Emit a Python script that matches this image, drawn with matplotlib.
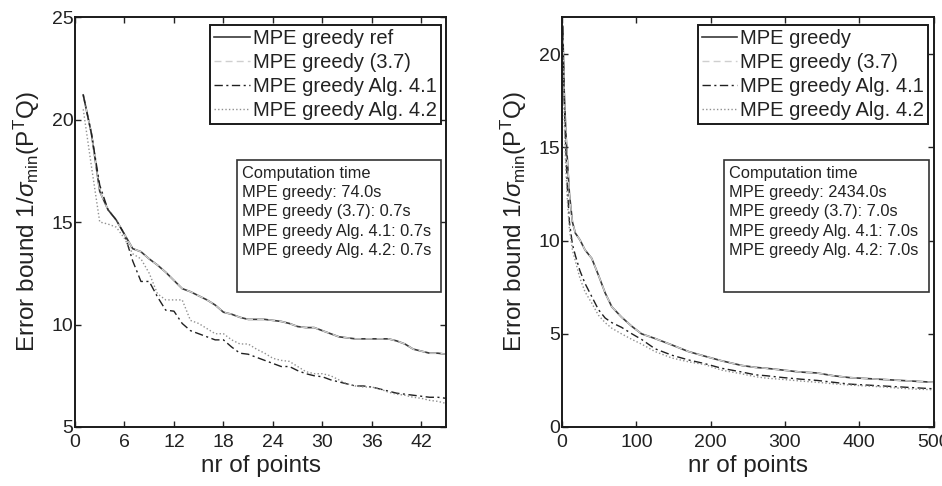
import matplotlib
matplotlib.use("Agg")
import matplotlib.pyplot as plt
from matplotlib.patches import Rectangle

plt.rcParams['font.family'] = ['Liberation Sans', 'DejaVu Sans']
plt.rcParams['mathtext.fontset'] = 'custom'
plt.rcParams['mathtext.rm'] = 'Liberation Sans'
plt.rcParams['mathtext.it'] = 'Liberation Sans:italic'
plt.rcParams['mathtext.bf'] = 'Liberation Sans:bold'

# left panel: 1..45 points
left_x = list(range(1, 46))
left_ref = [21.2, 19.3, 16.5, 15.6, 15.1, 14.4, 13.7, 13.55, 13.2, 12.9,
            12.55, 12.15, 11.75, 11.6, 11.4, 11.2, 10.95, 10.6, 10.5, 10.35,
            10.25, 10.25, 10.25, 10.2, 10.15, 10.05, 9.9, 9.85, 9.85, 9.7,
            9.55, 9.4, 9.35, 9.3, 9.3, 9.3, 9.3, 9.3, 9.2, 9.05,
            8.8, 8.7, 8.6, 8.6, 8.55]
left_37 = [21.2, 19.3, 16.5, 15.6, 15.1, 14.4, 13.7, 13.55, 13.2, 12.9,
           12.55, 12.15, 11.75, 11.6, 11.4, 11.2, 10.95, 10.6, 10.5, 10.35,
           10.25, 10.25, 10.25, 10.2, 10.15, 10.05, 9.9, 9.85, 9.85, 9.7,
           9.55, 9.4, 9.35, 9.3, 9.3, 9.3, 9.3, 9.3, 9.2, 9.05,
           8.8, 8.7, 8.6, 8.6, 8.55]
left_41 = [21.2, 19.3, 16.8, 15.6, 15.1, 14.4, 13.1, 12.1, 12.1, 11.35,
           10.7, 10.65, 10.05, 9.7, 9.55, 9.4, 9.25, 9.25, 8.9, 8.6,
           8.55, 8.4, 8.25, 8.1, 7.95, 7.95, 7.75, 7.6, 7.5, 7.45,
           7.3, 7.2, 7.1, 7.0, 7.0, 6.95, 6.85, 6.75, 6.65, 6.6,
           6.55, 6.5, 6.45, 6.45, 6.4]
left_42 = [20.5, 17.7, 15.0, 14.9, 14.75, 14.2, 13.45, 13.2, 12.5, 11.5,
           11.2, 11.2, 11.2, 10.2, 10.05, 9.8, 9.55, 9.55, 9.25, 9.05,
           9.05, 8.8, 8.6, 8.35, 8.25, 8.2, 7.95, 7.7, 7.6, 7.6,
           7.5, 7.3, 7.1, 7.0, 6.95, 6.95, 6.85, 6.7, 6.6, 6.55,
           6.45, 6.4, 6.3, 6.25, 6.15]

# right panel: up to 500 points
right_x = [1, 3, 5, 7, 10, 14, 18, 24, 31, 40, 49, 58, 67, 80, 94, 107, 125,
           148, 170, 192, 215, 242, 260, 275, 298, 320, 343, 365, 387, 410,
           432, 455, 477, 500]
right_ref = [21.5, 18.0, 16.0, 14.5, 12.5, 11.0, 10.4, 10.05, 9.5, 9.05, 8.15,
             7.2, 6.45, 5.9, 5.4, 5.0, 4.75, 4.4, 4.05, 3.8, 3.55, 3.3, 3.2,
             3.15, 3.05, 2.95, 2.9, 2.75, 2.65, 2.6, 2.55, 2.5, 2.45, 2.4]
right_37 = [21.5, 18.0, 16.0, 14.5, 12.5, 11.0, 10.4, 10.05, 9.5, 9.05, 8.15,
            7.2, 6.45, 5.9, 5.4, 5.0, 4.75, 4.4, 4.05, 3.8, 3.55, 3.3, 3.2,
            3.15, 3.05, 2.95, 2.9, 2.75, 2.65, 2.6, 2.55, 2.5, 2.45, 2.4]
right_41 = [21.5, 17.5, 15.0, 13.0, 11.0, 9.8, 9.2, 8.4, 7.7, 7.0, 6.3,
            5.85, 5.6, 5.35, 5.0, 4.7, 4.2, 3.85, 3.6, 3.4, 3.15, 2.95, 2.8,
            2.75, 2.65, 2.57, 2.5, 2.4, 2.3, 2.25, 2.2, 2.15, 2.1, 2.05]
right_42 = [21.0, 16.5, 14.0, 12.3, 10.6, 9.5, 8.9, 8.0, 7.25, 6.65, 6.0,
            5.6, 5.3, 5.0, 4.7, 4.45, 4.05, 3.7, 3.5, 3.35, 3.05, 2.85, 2.7,
            2.62, 2.55, 2.47, 2.4, 2.32, 2.25, 2.2, 2.15, 2.08, 2.03, 2.0]

left_labels = ['MPE greedy ref', 'MPE greedy (3.7)', 'MPE greedy Alg. 4.1', 'MPE greedy Alg. 4.2']
right_labels = ['MPE greedy', 'MPE greedy (3.7)', 'MPE greedy Alg. 4.1', 'MPE greedy Alg. 4.2']
left_times = ['Computation time', 'MPE greedy: 74.0s', 'MPE greedy (3.7): 0.7s',
              'MPE greedy Alg. 4.1: 0.7s', 'MPE greedy Alg. 4.2: 0.7s']
right_times = ['Computation time', 'MPE greedy: 2434.0s', 'MPE greedy (3.7): 7.0s',
               'MPE greedy Alg. 4.1: 7.0s', 'MPE greedy Alg. 4.2: 7.0s']

styles = [
    dict(color='#3a3a3a', linestyle='-', linewidth=1.2),
    dict(color='#cfcfcf', linestyle=(0, (5, 3)), linewidth=1.0),
    dict(color='#202020', linestyle=(0, (6, 2.5, 1.5, 2.5)), linewidth=1.0),
    dict(color='#909090', linestyle=(0, (1, 1.6)), linewidth=1.0),
]

fig = plt.figure(figsize=(9.42, 4.86), dpi=100)
ax1 = fig.add_axes([0.0796, 0.1214, 0.394, 0.8436])
ax2 = fig.add_axes([0.5966, 0.1214, 0.3946, 0.8436])

ylabel = r'Error bound 1/$\sigma_{\mathrm{min}}$(P$^{\mathrm{T}}$Q)'


def setup(ax, xs, series, labels, times, xlim, ylim, xticks, yticks):
    for ys, st, lab in zip(series, styles, labels):
        ax.plot(xs, ys, label=lab, **st)
    ax.set_xlim(*xlim)
    ax.set_ylim(*ylim)
    ax.set_xticks(xticks)
    ax.set_yticks(yticks)
    ax.tick_params(direction='in', top=True, right=True, length=4, width=1,
                   labelsize=14, colors='#222222', pad=1)
    ax.tick_params(axis='x', pad=5)
    for s in ax.spines.values():
        s.set_linewidth(1.4)
        s.set_color('#1a1a1a')
    ax.set_xlabel('nr of points', fontsize=17.5, color='#222222', labelpad=3)
    ax.set_ylabel(ylabel, fontsize=17.5, color='#222222', labelpad=7)
    leg = ax.legend(loc='upper right', bbox_to_anchor=(0.985, 0.98),
                    fontsize=14.5, handlelength=1.75, handletextpad=0.15,
                    borderpad=0.2, labelspacing=0.25, borderaxespad=0,
                    fancybox=False, framealpha=1)
    leg.get_frame().set_edgecolor('#1a1a1a')
    leg.get_frame().set_linewidth(1.4)
    for t in leg.get_texts():
        t.set_color('#222222')
    ax.add_patch(Rectangle((0.436, 0.329), 0.55, 0.322, transform=ax.transAxes,
                           fill=True, facecolor='white', edgecolor='#333333',
                           linewidth=1.2, zorder=5))
    ax.text(0.45, 0.637, '\n'.join(times), transform=ax.transAxes, fontsize=11.8,
            va='top', ha='left', color='#222222', linespacing=1.36, zorder=6)


setup(ax1, left_x, [left_ref, left_37, left_41, left_42], left_labels, left_times,
      (0, 45), (5, 25), [0, 6, 12, 18, 24, 30, 36, 42], [5, 10, 15, 20, 25])
setup(ax2, right_x, [right_ref, right_37, right_41, right_42], right_labels, right_times,
      (0, 500), (0, 22), [0, 100, 200, 300, 400, 500], [0, 5, 10, 15, 20])

fig.savefig('out.png', dpi=100)
